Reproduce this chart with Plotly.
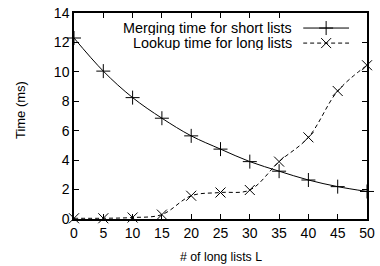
import plotly.graph_objects as go

L = [0, 5, 10, 15, 20, 25, 30, 35, 40, 45, 50]
merge_short = [12.3, 10.05, 8.25, 6.85, 5.65, 4.75, 3.9, 3.25, 2.65, 2.2, 1.87]
lookup_long = [0.05, 0.05, 0.1, 0.3, 1.58, 1.8, 1.97, 3.9, 5.55, 8.7, 10.45]
names = ["Merging time for short lists", "Lookup time for long lists"]
x_ticks = [0, 5, 10, 15, 20, 25, 30, 35, 40, 45, 50]
y_ticks = [0, 2, 4, 6, 8, 10, 12, 14]
x_title = "# of long lists L"
y_title = "Time (ms)"

FONT = "Liberation Sans, Arial, sans-serif"
fig = go.Figure()
fig.add_trace(go.Scatter(x=L, y=merge_short, mode="lines+markers", name=names[0],
                         line=dict(color="black", width=1, shape="spline"),
                         marker=dict(symbol="cross-thin", size=10, line=dict(color="black", width=1)),
                         showlegend=False, cliponaxis=False))
fig.add_trace(go.Scatter(x=L, y=lookup_long, mode="lines+markers", name=names[1],
                         line=dict(color="black", width=1, dash="4px,3px", shape="spline"),
                         marker=dict(symbol="x-thin", size=10, line=dict(color="black", width=1)),
                         showlegend=False, cliponaxis=False))

# custom legend (gnuplot style: text right-aligned, sample on the right)
leg_y = [0.635, 0.27]
for i, (nm, dash, sym) in enumerate([(names[0], "solid", "cross-thin"), (names[1], "4px,3px", "x-thin")]):
    fig.add_trace(go.Scatter(x=[0, 1], y=[leg_y[i], leg_y[i]], mode="lines", xaxis="x2", yaxis="y2",
                             line=dict(color="black", width=1, dash=dash), showlegend=False, hoverinfo="skip"))
    fig.add_trace(go.Scatter(x=[0.5], y=[leg_y[i]], mode="markers", xaxis="x2", yaxis="y2",
                             marker=dict(symbol=sym, size=10, line=dict(color="black", width=1)),
                             showlegend=False, hoverinfo="skip"))
    fig.add_annotation(text=nm, xref="x2 domain", yref="y2", x=-0.19, y=leg_y[i], xanchor="right",
                       yanchor="middle", showarrow=False, height=14,
                       font=dict(family=FONT, size=14.4, color="black"))

# axis titles as annotations (fixed positions)
fig.add_annotation(text=x_title, xref="paper", yref="paper", x=0.5, y=-0.185, xanchor="center",
                   yanchor="middle", showarrow=False, font=dict(family=FONT, size=12.3, color="black"))
fig.add_annotation(text=y_title, xref="paper", yref="paper", x=-0.18, y=0.53, xanchor="center",
                   yanchor="middle", showarrow=False, textangle=-90,
                   font=dict(family=FONT, size=13, color="black"))

axis_common = dict(showline=True, linecolor="black", linewidth=1.5, mirror="allticks", ticks="inside",
                   ticklen=5, tickcolor="black", tickwidth=1, showgrid=False, zeroline=False,
                   automargin=False, tickfont=dict(family=FONT, size=14, color="black"))
fig.update_layout(
    width=380, height=266, margin=dict(l=74, r=13, t=13, b=47),
    plot_bgcolor="white", paper_bgcolor="white",
    xaxis=dict(range=[0, 50], tickvals=x_ticks, **axis_common),
    yaxis=dict(range=[0, 14], tickvals=y_ticks, **axis_common),
    xaxis2=dict(domain=[0.782, 0.939], range=[0, 1], visible=False, anchor="y2"),
    yaxis2=dict(domain=[0.8, 1.0], range=[0, 1], visible=False, anchor="x2"),
)
fig.write_html("out.html", config={"displayModeBar": False},
               post_script="document.body.style.margin='0px';document.body.style.overflow='hidden';")
